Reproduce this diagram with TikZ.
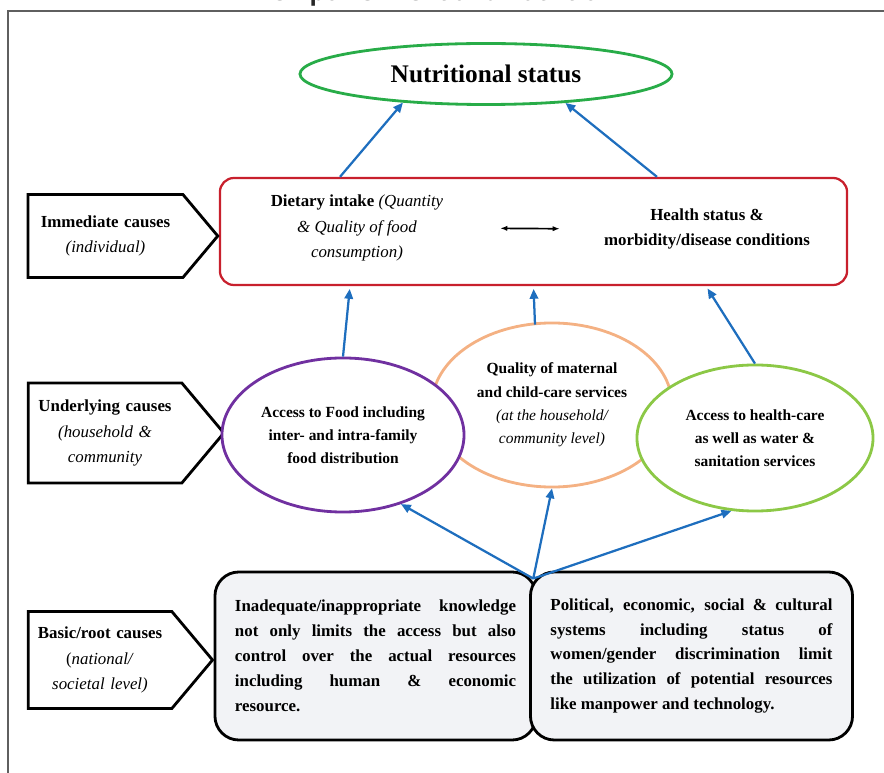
\documentclass[tikz,border=0pt]{standalone}
\usepackage{fontspec}
\setmainfont{Liberation Serif}
\newfontfamily\titlefont{Open Sans}
\usetikzlibrary{shapes.geometric,shapes.symbols,arrows.meta,calc}
\definecolor{nutgreen}{RGB}{40,172,72}
\definecolor{boxred}{RGB}{200,32,45}
\definecolor{famviolet}{RGB}{112,48,160}
\definecolor{careorange}{RGB}{244,177,131}
\definecolor{healthgreen}{RGB}{140,200,70}
\definecolor{flowblue}{RGB}{30,110,190}
\definecolor{rootfill}{RGB}{242,243,246}
\definecolor{framegray}{RGB}{95,95,95}

\begin{document}
\begin{tikzpicture}[x=0.025cm,y=-0.025cm,
    every node/.style={font=\fontsize{12}{18}\selectfont},
    levelbox/.style={signal, signal to=east, signal pointer angle=100, draw, line width=2pt, align=center, inner xsep=2pt},
    cause/.style={ellipse, draw, line width=2pt, fill=white, align=center, inner sep=0pt, font=\bfseries\fontsize{11}{16.5}\selectfont},
    rootbox/.style={draw, line width=2pt, fill=rootfill, rounded corners=17pt, minimum height=4.2cm, inner xsep=0.5cm, align=justify, font=\bfseries\fontsize{12}{17.7}\selectfont},
    flow/.style={-{Triangle[length=7pt,width=6pt]}, draw=flowblue, line width=1.6pt},
    both/.style={{Latex[length=5pt]}-{Latex[length=5pt]}, line width=1.2pt},
]
    \useasboundingbox (0,0) rectangle (884,773);
    \draw[framegray, line width=1.3pt] (8,780) -- (8,11) -- (890,11);
    \node[font=\titlefont\bfseries\fontsize{17}{20}\selectfont, anchor=base, text=black!85] (title) at (443,1) {empowerment and nutrition};

    \node[ellipse, draw=nutgreen, line width=2pt, minimum width=9.3cm, minimum height=1.525cm, font=\bfseries\fontsize{18}{20}\selectfont] (nut) at (486,74) {Nutritional status};
    \node[draw=boxred, line width=1.6pt, rounded corners=10pt, minimum width=15.675cm, minimum height=2.675cm] (box) at (533.5,231.5) {};
    \node[align=center] (diet) at (357,228) {\textbf{Dietary intake} \textit{(Quantity}\\\textit{\& Quality of food}\\\textit{consumption)}};
    \node[align=center, font=\bfseries\fontsize{12}{18}\selectfont] (health) at (707,229) {Health status \&\\morbidity/disease conditions};
    \draw[both, shorten <=37pt, shorten >=28pt] (diet.east) -- (health.west);

    \node[levelbox, text width=3.73cm, minimum height=2.075cm] (imm) at (105.5,236) {\textbf{Immediate causes}\\\textit{(individual)}};
    \node[levelbox, text width=3.7cm, minimum height=2.5cm] (und) at (105,433) {\textbf{Underlying causes}\\\textit{(household \&}\\\textit{community}};
    \node[levelbox, text width=3.45cm, minimum height=2.425cm] (bas) at (100,660) {\textbf{Basic/root causes}\\(\textit{national/}\\\textit{societal level)}};

    \node[cause, draw=careorange, minimum width=6cm, minimum height=4.1cm] (care) at (552,405) {Quality of maternal\\and child-care services\\{\mdseries\itshape (at the household/}\\{\mdseries\itshape community level)}};
    \node[cause, draw=famviolet, minimum width=6.05cm, minimum height=3.85cm] (fam) at (343,435) {Access to Food including\\inter- and intra-family\\food distribution};
    \node[cause, draw=healthgreen, minimum width=5.9cm, minimum height=3.65cm] (hc) at (755,438) {Access to health-care\\as well as water \&\\sanitation services};

    \node[rootbox, text width=7.025cm] (lbox) at (375.5,656) {Inadequate/inappropriate knowledge\linebreak not only limits the access but also\linebreak control over the actual resources\linebreak including human \& economic\linebreak resource.};
    \node[rootbox, text width=7.05cm] (rbox) at (691.5,656) {Political, economic, social \& cultural\linebreak systems including status of\linebreak women/gender discrimination limit\linebreak the utilization of potential resources\linebreak like manpower and technology.};
    \coordinate (notch) at ($(lbox.north east)!.5!(rbox.north west)+(0,8)$);

    \draw[flow] ($(box.north)+(-193.5,0)$) -- (nut.199);
    \draw[flow] ($(box.north)+(123.5,0)$) -- (nut.340);
    \draw[flow, shorten >=2pt] (fam.north) -- ($(box.south)+(-183.5,0)$);
    \draw[flow, shorten >=2pt] ($(care.north)+(-17,3)$) -- (box.south);
    \draw[flow, shorten >=2pt] (hc.north) -- ($(box.south)+(172.5,0)$);
    \draw[flow] (notch) -- (fam.310);
    \draw[flow] (notch) -- (care.south);
    \draw[flow] (notch) -- (hc.252);
\end{tikzpicture}
\end{document}
